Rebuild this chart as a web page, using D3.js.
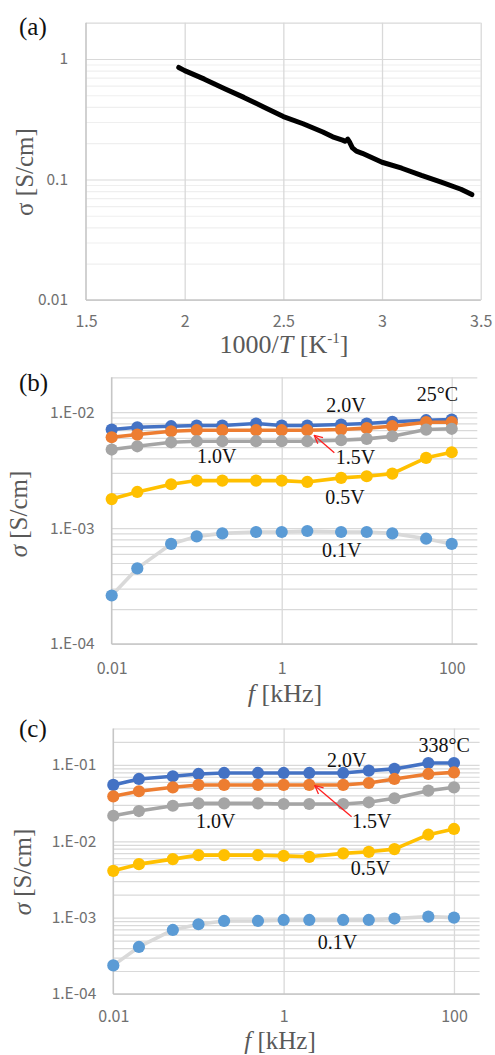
<!DOCTYPE html>
<html><head><meta charset="utf-8">
<script src="https://cdn.jsdelivr.net/npm/d3@7"></script>
<style>body{margin:0;background:#fff}svg{display:block}</style>
</head><body>
<svg id="chart" width="495" height="1055"></svg>
<script>
// ---------- DATA ----------
// (a) conductivity vs 1000/T (null = small break in the trace)
const arrX     = [1.97, 2.0, 2.1, 2.2, 2.3, 2.4, 2.5, 2.6, 2.7, 2.75, 2.8, 2.812, 2.818, 2.826, 2.835, 2.85, 2.87, 2.9, 3.0, 3.1, 3.2, 3.3, 3.4, 3.455];
const arrSigma = [0.85, 0.80, 0.68, 0.57, 0.48, 0.40, 0.333, 0.29, 0.248, 0.226, 0.212, 0.208, null, 0.216, 0.205, 0.183, 0.172, 0.165, 0.139, 0.124, 0.108, 0.095, 0.083, 0.075];
const aXTicks = [1.5, 2, 2.5, 3, 3.5];
const aXTickLabels = ["1.5", "2", "2.5", "3", "3.5"];
const aYTicks = [0.01, 0.1, 1];
const aYTickLabels = ["0.01", "0.1", "1"];

// (b),(c) conductivity vs frequency
const freqKHz = [0.01, 0.02, 0.05, 0.1, 0.2, 0.5, 1, 2, 5, 10, 20, 50, 100];
const seriesNames = ["2.0V", "1.5V", "1.0V", "0.5V", "0.1V"];
// 25 °C
const b20 = [7.08e-3, 7.41e-3, 7.57e-3, 7.67e-3, 7.67e-3, 7.98e-3, 7.67e-3, 7.67e-3, 7.83e-3, 7.98e-3, 8.26e-3, 8.53e-3, 8.65e-3];
const b15 = [6.08e-3, 6.41e-3, 6.85e-3, 6.99e-3, 6.99e-3, 6.99e-3, 6.99e-3, 6.99e-3, 7.08e-3, 7.28e-3, 7.57e-3, 8.2e-3, 8.2e-3];
const b10 = [4.76e-3, 5.08e-3, 5.5e-3, 5.62e-3, 5.62e-3, 5.62e-3, 5.62e-3, 5.62e-3, 5.73e-3, 5.89e-3, 6.2e-3, 7.08e-3, 7.19e-3];
const b05 = [1.78e-3, 2.05e-3, 2.39e-3, 2.57e-3, 2.57e-3, 2.57e-3, 2.57e-3, 2.50e-3, 2.71e-3, 2.80e-3, 2.95e-3, 4.04e-3, 4.51e-3];
const b01 = [2.62e-4, 4.49e-4, 7.3e-4, 8.48e-4, 9.0e-4, 9.25e-4, 9.25e-4, 9.44e-4, 9.25e-4, 9.25e-4, 9.0e-4, 8.1e-4, 7.3e-4];
// 338 °C
const c20 = [5.47e-2, 6.55e-2, 7.11e-2, 7.62e-2, 7.85e-2, 7.85e-2, 7.85e-2, 7.85e-2, 7.85e-2, 8.41e-2, 8.87e-2, 1.06e-1, 1.06e-1];
const c15 = [3.88e-2, 4.52e-2, 5.09e-2, 5.47e-2, 5.47e-2, 5.47e-2, 5.47e-2, 5.47e-2, 5.47e-2, 5.8e-2, 6.55e-2, 7.62e-2, 8.0e-2];
const c10 = [2.16e-2, 2.49e-2, 2.92e-2, 3.14e-2, 3.14e-2, 3.14e-2, 3.08e-2, 3.08e-2, 3.08e-2, 3.24e-2, 3.66e-2, 4.6e-2, 5.09e-2];
const c05 = [4.1e-3, 5.02e-3, 5.84e-3, 6.59e-3, 6.59e-3, 6.59e-3, 6.45e-3, 6.26e-3, 6.94e-3, 7.28e-3, 7.9e-3, 1.22e-2, 1.45e-2];
const c01 = [2.37e-4, 4.13e-4, 6.9e-4, 8.19e-4, 9.05e-4, 9.05e-4, 9.33e-4, 9.33e-4, 9.33e-4, 9.33e-4, 9.73e-4, 1.03e-3, 1.0e-3];

const fTicks = [0.01, 1, 100];
const fTickLabels = ["0.01", "1", "100"];
const bYTicks = [1e-4, 1e-3, 1e-2];
const bYTickLabels = ["1.E-04", "1.E-03", "1.E-02"];
const cYTicks = [1e-4, 1e-3, 1e-2, 1e-1];
const cYTickLabels = ["1.E-04", "1.E-03", "1.E-02", "1.E-01"];

// annotations in data units [f (kHz), sigma]
const bLabelText = ["2.0V", "25°C", "1.0V", "1.5V", "0.5V", "0.1V"];
const bLabelF    = [5.7, 68, 0.172, 7.4, 5.56, 5.1];
const bLabelS    = [1.0e-2, 1.24e-2, 3.66e-3, 3.54e-3, 1.62e-3, 5.65e-4];
const bArrowF = [4.16, 2.42];
const bArrowS = [4.46e-3, 6.3e-3];
const cLabelText = ["338°C", "2.0V", "1.0V", "1.5V", "0.5V", "0.1V"];
const cLabelF    = [76.7, 5.49, 0.160, 10.8, 10.5, 4.28];
const cLabelS    = [0.146, 0.0936, 0.01479, 0.01479, 3.61e-3, 3.83e-4];
const cArrowF = [6.28, 2.33];
const cArrowS = [0.021, 0.0534];

// ---------- STYLE ----------
const serif = "'Liberation Serif','Times New Roman',serif";
const sans = "'Noto Sans CJK JP','Noto Sans',sans-serif";
const gridCol = "#d9d9d9", axisCol = "#c6c6c6";
const tickCol = "#707070", titleCol = "#595959";
const seriesStyle = {
  "2.0V": {m: "#4472C4", l: "#4472C4"},
  "1.5V": {m: "#ED7D31", l: "#ED7D31"},
  "1.0V": {m: "#A5A5A5", l: "#A5A5A5"},
  "0.5V": {m: "#FFC000", l: "#FFC000"},
  "0.1V": {m: "#5B9BD5", l: "#D9D9D9"}
};

const svg = d3.select("#chart");
svg.append("rect").attr("width", 495).attr("height", 1055).attr("fill", "#fff");

const defs = svg.append("defs");
defs.append("marker").attr("id", "arrowhead")
  .attr("viewBox", "0 0 10 10").attr("refX", 9).attr("refY", 5)
  .attr("markerWidth", 10).attr("markerHeight", 10).attr("markerUnits", "userSpaceOnUse")
  .attr("orient", "auto")
  .append("path").attr("d", "M1,1 L9,5 L1,9").attr("fill", "none")
  .attr("stroke", "#ff2020").attr("stroke-width", 1.3);

function logValues(domain) {
  const out = [];
  const lo = Math.floor(Math.log10(domain[0])), hi = Math.ceil(Math.log10(domain[1]));
  for (let n = lo; n <= hi; n++) for (let k = 1; k <= 9; k++) {
    const v = +(k * Math.pow(10, n)).toPrecision(3);
    if (v >= domain[0] * 0.999 && v <= domain[1] * 1.001) out.push({v, major: k === 1});
  }
  return out;
}

function hGrid(g, x, y, minorColor) {
  const [x0, x1] = x.range();
  const vals = logValues(y.domain());
  const top = y.domain()[1];
  const ga = g.append("g").attr("transform", `translate(${x0},0)`)
    .call(d3.axisLeft(y).tickValues(vals.map(d => d.v)).tickSize(-(x1 - x0)).tickFormat(""));
  ga.select(".domain").remove();
  ga.selectAll(".tick line").attr("stroke", (d) => {
    const o = vals.find(e => e.v === d);
    return (o.major || Math.abs(d - top) / top < 1e-3) ? gridCol : minorColor;
  }).attr("stroke-width", 1.2);
}

function vGrid(g, x, y, values) {
  const [y0, y1] = y.range();
  const ga = g.append("g").attr("transform", `translate(0,${y0})`)
    .call(d3.axisBottom(x).tickValues(values).tickSize(-(y0 - y1)).tickFormat(""));
  ga.select(".domain").remove();
  ga.selectAll(".tick line").attr("stroke", gridCol).attr("stroke-width", 1.3);
}

function axes(g, x, y, xt, xl, yt, yl, yPad, xLabelY) {
  const [x0, x1] = x.range();
  const [y0, y1] = y.range();
  const ay = g.append("g").attr("transform", `translate(${x0},0)`)
    .call(d3.axisLeft(y).tickValues(yt).tickFormat((d, i) => yl[i]).tickSize(0).tickPadding(yPad));
  ay.select(".domain").remove();
  ay.selectAll("text").attr("font-family", sans).attr("font-size", 15.5).attr("fill", tickCol);
  const ax = g.append("g").attr("transform", `translate(0,${y0})`)
    .call(d3.axisBottom(x).tickValues(xt).tickFormat((d, i) => xl[i]).tickSize(0));
  ax.select(".domain").remove();
  ax.selectAll("text").attr("font-family", sans).attr("font-size", 16).attr("fill", tickCol)
    .attr("dy", null).attr("y", xLabelY - y0);
  g.append("line").attr("x1", x0).attr("x2", x0).attr("y1", y0).attr("y2", y1)
    .attr("stroke", axisCol).attr("stroke-width", 1.6);
  g.append("line").attr("x1", x0).attr("x2", x1).attr("y1", y0).attr("y2", y0)
    .attr("stroke", axisCol).attr("stroke-width", 1.6);
}

function panelLabel(t, x, y) {
  svg.append("text").attr("x", x).attr("y", y).attr("font-family", serif)
    .attr("font-size", 25).attr("fill", "#111").text(t);
}

function yTitle(x, y, italicSigma) {
  const t = svg.append("text").attr("transform", `translate(${x},${y}) rotate(-90)`)
    .attr("text-anchor", "middle").attr("font-family", serif).attr("font-size", 25).attr("fill", titleCol);
  t.append("tspan").attr("font-style", italicSigma ? "italic" : "normal").text("σ");
  t.append("tspan").text(" [S/cm]");
}

// ---------- PANEL (a) ----------
{
  const x = d3.scaleLinear().domain([1.5, 3.5]).range([86, 480.7]);
  const y = d3.scaleLog().domain([0.01, 2]).range([300, 22.7]);
  const g = svg.append("g");
  hGrid(g, x, y, "#efefef");
  vGrid(g, x, y, [2, 2.5, 3, 3.5]);
  axes(g, x, y, aXTicks, aXTickLabels, aYTicks, aYTickLabels, 18, 326.5);
  const pts = arrX.map((v, i) => ({x: v, s: arrSigma[i]}));
  g.append("path").datum(pts)
    .attr("d", d3.line().defined(d => d.s != null).x(d => x(d.x)).y(d => y(d.s)))
    .attr("fill", "none").attr("stroke", "#000").attr("stroke-width", 5)
    .attr("stroke-linecap", "round").attr("stroke-linejoin", "round");
  panelLabel("(a)", 19, 35);
  yTitle(33, 172, false);
  const xt = svg.append("text").attr("x", 284).attr("y", 352.5).attr("text-anchor", "middle")
    .attr("font-family", serif).attr("font-size", 26).attr("fill", titleCol);
  xt.append("tspan").text("1000/");
  xt.append("tspan").attr("font-style", "italic").text("T");
  xt.append("tspan").text(" [K");
  xt.append("tspan").attr("font-size", 15).attr("dy", -10).text("-1");
  xt.append("tspan").attr("dy", 10).text("]");
}

// ---------- PANELS (b), (c) ----------
function freqPanel(x, y, series, labelText, labelF, labelS, arrowF, arrowS, yt, yl, xLabelY) {
  const g = svg.append("g");
  hGrid(g, x, y, gridCol);
  vGrid(g, x, y, [1, 100]);
  axes(g, x, y, fTicks, fTickLabels, yt, yl, 17, xLabelY);
  const line = d3.line().x(d => x(d.f)).y(d => y(d.s));
  seriesNames.forEach((name, si) => {
    const pts = freqKHz.map((f, i) => ({f, s: series[si][i]}));
    const st = seriesStyle[name];
    const sg = g.append("g");
    sg.append("path").datum(pts).attr("d", line).attr("fill", "none")
      .attr("stroke", st.l).attr("stroke-width", 3.6).attr("stroke-linejoin", "round");
    sg.selectAll("circle").data(pts).join("circle")
      .attr("cx", d => x(d.f)).attr("cy", d => y(d.s)).attr("r", 6.1).attr("fill", st.m);
  });
  g.selectAll("text.lab").data(labelText).join("text").attr("class", "lab")
    .attr("x", (d, i) => x(labelF[i])).attr("y", (d, i) => y(labelS[i]))
    .attr("text-anchor", "middle").attr("font-family", serif).attr("font-size", 20)
    .attr("fill", "#111").text(d => d);
  g.append("line")
    .attr("x1", x(arrowF[0])).attr("y1", y(arrowS[0]))
    .attr("x2", x(arrowF[1])).attr("y2", y(arrowS[1]))
    .attr("stroke", "#ff2020").attr("stroke-width", 1.3).attr("marker-end", "url(#arrowhead)");
}

function fTitle(x, yb, size) {
  const t = svg.append("text").attr("x", x).attr("y", yb).attr("text-anchor", "middle")
    .attr("font-family", serif).attr("font-size", size).attr("fill", titleCol);
  t.append("tspan").attr("font-style", "italic").text("f");
  t.append("tspan").text(" [kHz]");
}

{
  const x = d3.scaleLog().domain([0.01, 200]).range([111.7, 477.3]);
  const y = d3.scaleLog().domain([1e-4, 2e-2]).range([644, 377.3]);
  freqPanel(x, y, [b20, b15, b10, b05, b01], bLabelText, bLabelF, bLabelS, bArrowF, bArrowS, bYTicks, bYTickLabels, 673.5);
  panelLabel("(b)", 19, 391);
  yTitle(27, 514, true);
  fTitle(285, 702, 26);
}
{
  const x = d3.scaleLog().domain([0.01, 200]).range([113.3, 479.6]);
  const y = d3.scaleLog().domain([1e-4, 0.3]).range([994, 728.5]);
  freqPanel(x, y, [c20, c15, c10, c05, c01], cLabelText, cLabelF, cLabelS, cArrowF, cArrowS, cYTicks, cYTickLabels, 1022);
  panelLabel("(c)", 19, 737);
  yTitle(31, 872, true);
  fTitle(280, 1048.5, 25);
}
</script>
</body></html>
